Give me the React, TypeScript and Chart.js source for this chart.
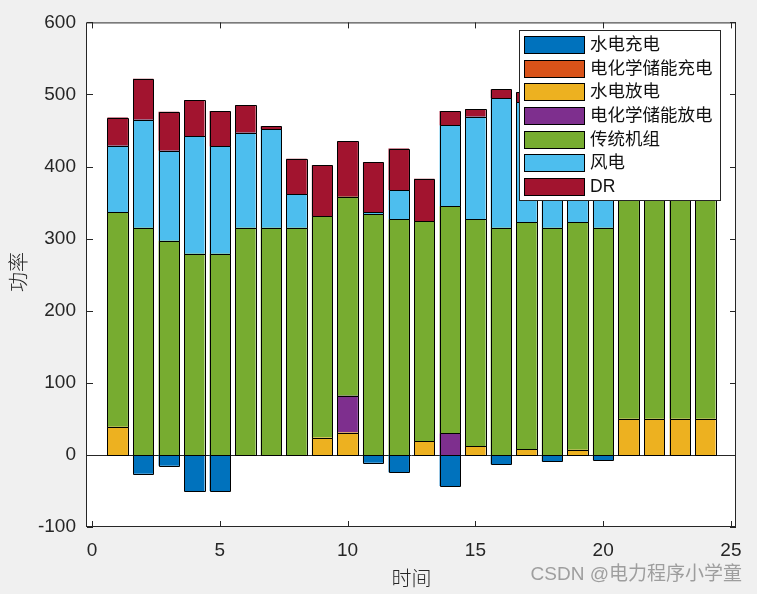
import React, { useEffect, useRef } from "react";
import { Chart, registerables } from "chart.js";

Chart.register(...registerables);

// ---- data ----
const hours = [1, 2, 3, 4, 5, 6, 7, 8, 9, 10, 11, 12, 13, 14, 15, 16, 17, 18, 19, 20, 21, 22, 23, 24];
const seriesNames = ["水电充电", "电化学储能充电", "水电放电", "电化学储能放电", "传统机组", "风电", "DR"];
const hydroCharge = [0, -26, -15, -50, -50, 0, 0, 0, 0, 0, -11, -24, 0, -43, 0, -13, 0, -9, 0, -7, 0, 0, 0, 0];
const batteryCharge = [0, 0, 0, 0, 0, 0, 0, 0, 0, 0, 0, 0, 0, 0, 0, 0, 0, 0, 0, 0, 0, 0, 0, 0];
const hydroDischarge = [39, 0, 0, 0, 0, 0, 0, 0, 24, 31, 0, 0, 19, 0, 12, 0, 8, 0, 7, 0, 50, 50, 50, 50];
const batteryDischarge = [0, 0, 0, 0, 0, 0, 0, 0, 0, 51, 0, 0, 0, 30, 0, 0, 0, 0, 0, 0, 0, 0, 0, 0];
const conventional = [298, 315, 297, 279, 279, 315, 315, 315, 307, 276, 334, 327, 305, 315, 315, 315, 315, 315, 316, 315, 315, 315, 315, 315];
const wind = [92, 150, 125, 163, 149, 132, 137, 47, 0, 0, 3, 40, 0, 112, 142, 180, 166, 130, 120, 110, 60, 40, 30, 20];
const demandResponse = [39, 57, 54, 50, 49, 38, 4, 49, 71, 77, 69, 58, 59, 20, 11, 12, 14, 20, 15, 25, 30, 25, 20, 15];
const seriesColors = ["#0072BD", "#D95319", "#EDB120", "#7E2F8E", "#77AC30", "#4DBEEE", "#A2142F"];
const xTicks = [0, 5, 10, 15, 20, 25];
const yTicks = [-100, 0, 100, 200, 300, 400, 500, 600];
const xTitle = "时间";
const yTitle = "功率";
const watermark = "CSDN @电力程序小学童";

const seriesValues = [hydroCharge, batteryCharge, hydroDischarge, batteryDischarge, conventional, wind, demandResponse];

const FONT = '"Liberation Sans", Arial, "Noto Sans CJK SC", sans-serif';
const AXIS = "#262626";

const matlabPlugin = {
  id: "matlabAxes",
  beforeDraw(chart: any) {
    const { ctx, chartArea: a } = chart;
    ctx.save();
    ctx.fillStyle = "#f0f0f0";
    ctx.fillRect(0, 0, chart.width, chart.height);
    ctx.fillStyle = "#ffffff";
    ctx.fillRect(a.left, a.top, a.right - a.left, a.bottom - a.top);
    ctx.restore();
  },
  beforeDatasetsDraw(chart: any) {
    const { ctx, chartArea: a, scales } = chart;
    const y0 = Math.round(scales.y.getPixelForValue(0)) + 0.5;
    ctx.save();
    ctx.strokeStyle = AXIS;
    ctx.lineWidth = 1;
    ctx.beginPath();
    ctx.moveTo(a.left, y0);
    ctx.lineTo(a.right, y0);
    ctx.stroke();
    ctx.restore();
  },
  afterDatasetsDraw(chart: any) {
    const { ctx, chartArea: a, scales } = chart;
    ctx.save();
    // crisp bar outlines
    ctx.strokeStyle = "#000000";
    ctx.lineWidth = 1;
    ctx.beginPath();
    chart.data.datasets.forEach((ds: any, di: number) => {
      const meta = chart.getDatasetMeta(di);
      meta.data.forEach((el: any, i: number) => {
        const v = seriesValues[di][i];
        if (!v) return;
        const l = Math.round(el.x - el.width / 2) + 0.5;
        const r = Math.round(el.x + el.width / 2) + 0.5;
        const t = Math.round(Math.min(el.y, el.base)) + 0.5;
        const b = Math.round(Math.max(el.y, el.base)) + 0.5;
        ctx.rect(l, t, r - l, b - t);
      });
    });
    ctx.stroke();

    ctx.strokeStyle = AXIS;
    // box
    ctx.strokeRect(a.left - 0.5, a.top + 0.5, a.right - a.left, a.bottom - a.top - 1);
    // inward ticks
    const tl = 6;
    ctx.beginPath();
    yTicks.forEach((v) => {
      const p = Math.round(scales.y.getPixelForValue(v)) + 0.5;
      ctx.moveTo(a.left, p);
      ctx.lineTo(a.left + tl, p);
      ctx.moveTo(a.right, p);
      ctx.lineTo(a.right - tl, p);
    });
    xTicks.forEach((v) => {
      const p = Math.round(scales.x.getPixelForValue(v)) + 0.5;
      ctx.moveTo(p, a.bottom);
      ctx.lineTo(p, a.bottom - tl);
      ctx.moveTo(p, a.top);
      ctx.lineTo(p, a.top + tl);
    });
    ctx.stroke();

    // legend
    const lx = 519, ly = 30, lw = 201, lh = 170;
    ctx.fillStyle = "#ffffff";
    ctx.fillRect(lx, ly, lw, lh);
    ctx.strokeStyle = AXIS;
    ctx.strokeRect(lx + 0.5, ly + 0.5, lw, lh);
    ctx.font = `17.5px ${FONT}`;
    ctx.textAlign = "left";
    ctx.textBaseline = "middle";
    seriesNames.forEach((name, i) => {
      const top = Math.round(36 + i * 23.67);
      ctx.fillStyle = seriesColors[i];
      ctx.fillRect(524, top, 60, 17);
      ctx.strokeStyle = "#000";
      ctx.strokeRect(524.5, top + 0.5, 60, 17);
      ctx.fillStyle = "#111";
      ctx.fillText(name, 590, top + 9.5);
    });

    // axis titles
    ctx.fillStyle = AXIS;
    ctx.font = `300 20px "Noto Sans CJK SC", sans-serif`;
    ctx.textAlign = "center";
    ctx.textBaseline = "middle";
    ctx.fillText(xTitle, (a.left + a.right) / 2, 578);
    ctx.save();
    ctx.translate(18, 272);
    ctx.rotate(-Math.PI / 2);
    ctx.fillText(yTitle, 0, 0);
    ctx.restore();

    // watermark
    ctx.font = `19px ${FONT}`;
    ctx.textAlign = "right";
    ctx.fillStyle = "#9e9e9e";
    ctx.fillText(watermark, 742, 575);
    ctx.restore();
  },
};

export default function App() {
  const ref = useRef<HTMLCanvasElement>(null);
  useEffect(() => {
    document.body.style.margin = "0";
    document.body.style.background = "#f0f0f0";
    const canvas = ref.current;
    if (!canvas) return;
    const datasets = seriesNames.map((name, k) => ({
      label: name,
      data: seriesValues[k].map((v, i) => ({ x: hours[i], y: v })),
      backgroundColor: seriesColors[k],
      borderWidth: 0,
      inflateAmount: 0,
      barPercentage: 0.8,
      categoryPercentage: 1,
    }));
    const chart = new Chart(canvas, {
      type: "bar",
      data: { datasets },
      plugins: [matlabPlugin],
      options: {
        animation: false,
        responsive: false,
        devicePixelRatio: 1,
        layout: { padding: { left: 0, top: 14, right: 21, bottom: 0 } },
        plugins: { legend: { display: false }, tooltip: { enabled: false } },
        scales: {
          x: {
            type: "linear",
            min: -0.2,
            max: 25.2,
            stacked: true,
            offset: false,
            grid: { display: false, drawTicks: false },
            border: { display: false },
            ticks: { font: { family: FONT, size: 19 }, color: AXIS, padding: 12, maxRotation: 0, autoSkip: false },
            afterBuildTicks: (s: any) => {
              s.ticks = xTicks.map((v) => ({ value: v }));
            },
            afterFit: (s: any) => {
              s.height = 67;
            },
          },
          y: {
            type: "linear",
            min: -100,
            max: 600,
            stacked: true,
            grid: { display: false, drawTicks: false },
            border: { display: false },
            ticks: { font: { family: FONT, size: 19 }, color: AXIS, padding: 11, autoSkip: false },
            afterBuildTicks: (s: any) => {
              s.ticks = yTicks.map((v) => ({ value: v }));
            },
            afterFit: (s: any) => {
              s.width = 87;
            },
          },
        },
      },
    });
    return () => chart.destroy();
  }, []);
  return (
    <div style={{ width: 757, height: 594, background: "#f0f0f0" }}>
      <canvas ref={ref} width={757} height={594} style={{ display: "block", width: 757, height: 594 }} />
    </div>
  );
}
